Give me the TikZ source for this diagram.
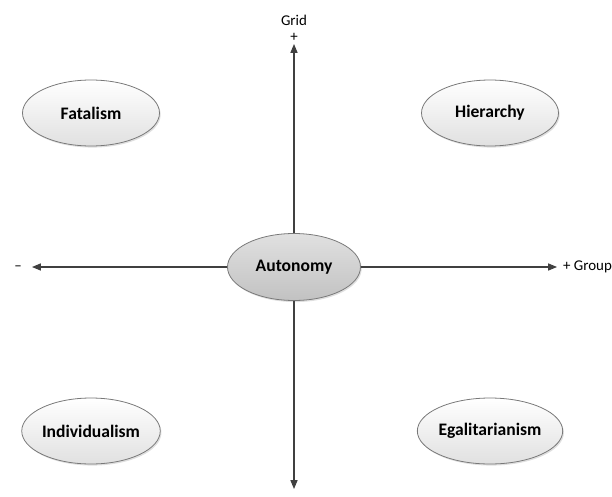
\documentclass[tikz,border=0pt]{standalone}
\usepackage{fontspec}
\setmainfont{Carlito}
\usetikzlibrary{arrows.meta, shapes.geometric, shadows}
\definecolor{axiscol}{RGB}{64,64,64}
\definecolor{rimcol}{RGB}{120,120,120}

\begin{document}
\begin{tikzpicture}[x=0.02cm, y=-0.02cm, font=\fontsize{8.5}{10}\selectfont,
  culture/.style={ellipse, draw=rimcol, line width=0.45pt, inner sep=0pt,
    top color=white, bottom color=black!12,
    minimum width=2.74cm, minimum height=1.32cm,
    font=\fontsize{10}{12}\selectfont\bfseries,
    drop shadow={shadow xshift=0.7pt, shadow yshift=-0.9pt, opacity=0.25}},
  axis/.style={draw=axiscol, line width=0.6pt, -{Triangle[length=5pt, width=4pt]}}]
  \useasboundingbox (0,0) rectangle (612,497);

  % centre of the grid/group plane
  \node[culture, top color=black!12, bottom color=black!24,
        minimum width=2.66cm, minimum height=1.34cm] (auto) at (294,267) {Autonomy};

  \foreach \name/\txt/\xpos/\ypos in {fat/Fatalism/91/113, hier/Hierarchy/490/113,
      indiv/Individualism/91/431, egal/Egalitarianism/490/431}
    \node[culture] (\name) at (\xpos,\ypos) {\txt};

  \coordinate (gridtip) at (294,44);
  \coordinate (downtip) at (294,489);
  \coordinate (lefttip) at (32,267);
  \coordinate (righttip) at (557,267);
  \draw[axis] (auto.north) -- (gridtip);
  \draw[axis] (auto.south) -- (downtip);
  \draw[axis] (auto.west) -- (lefttip);
  \draw[axis] (auto.east) -- (righttip);

  \node (grid) at (294,20) {Grid};
  \node (plus) at (294,37) {+};
  \node (minus) at (18,268) {–};
  \node[anchor=west, inner sep=1pt] (group) at (561,267) {+ Group};
\end{tikzpicture}
\end{document}
